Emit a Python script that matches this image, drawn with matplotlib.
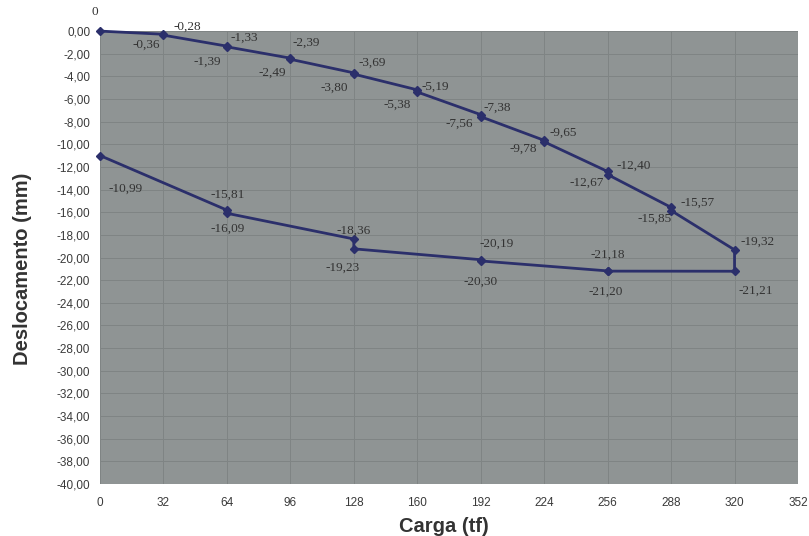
import matplotlib.pyplot as plt
from matplotlib.ticker import FuncFormatter, MultipleLocator

# load steps (tf) and measured displacement (mm), loading then unloading
carga = [0, 32, 32, 64, 64, 96, 96, 128, 128, 160, 160, 192, 192, 224, 224,
         256, 256, 288, 288, 320, 320, 256, 256, 192, 192, 128, 128, 64, 64, 0]
desloc = [0.00, -0.28, -0.36, -1.33, -1.39, -2.39, -2.49, -3.69, -3.80, -5.19,
          -5.38, -7.38, -7.56, -9.65, -9.78, -12.40, -12.67, -15.57, -15.85,
          -19.32, -21.21, -21.20, -21.18, -20.30, -20.19, -19.23, -18.36,
          -16.09, -15.81, -10.99]

# label offsets in pixels (dx, dy), dy positive = up
offsets = [(-5, 19), (24, 8), (-17, -10), (17, 8), (-20, -15), (16, 15), (-18, -13),
           (18, 10), (-20, -14), (18, 3), (-20, -13), (17, 7), (-21, -7),
           (19, 8), (-21, -7), (26, 6), (-21, -8), (26, 5), (-17, -8),
           (23, 8), (21, -19), (-2, -21), (0, 16), (0, -21), (16, 16),
           (-11, -19), (0, 8), (1, -15), (1, 15), (26, -33)]

cor_linha = '#2b2f6b'

fig = plt.figure(figsize=(8.09, 5.36), dpi=100)
ax = fig.add_axes([0.1236, 0.097, 0.8628, 0.845])
ax.set_facecolor('#8f9494')

ax.plot(carga, desloc, color=cor_linha, linewidth=2, marker='D', markersize=4,
        clip_on=False, zorder=3)

for x, y, (dx, dy) in zip(carga, desloc, offsets):
    txt = '0' if y == 0 else f'{y:.2f}'.replace('.', ',')
    ax.annotate(txt, (x, y), xytext=(dx, dy), textcoords='offset pixels',
                ha='center', va='center', fontsize=9.5, color='#333333',
                family='Liberation Serif', annotation_clip=False)

ax.set_xlim(0, 352)
ax.set_ylim(-40, 0)
ax.xaxis.set_major_locator(MultipleLocator(32))
ax.yaxis.set_major_locator(MultipleLocator(2))
ax.yaxis.set_major_formatter(FuncFormatter(lambda v, p: f'{v:.2f}'.replace('.', ',')))
ax.grid(True, color='#7f8484', linewidth=0.7)
ax.set_axisbelow(True)
for s in ax.spines.values():
    s.set_visible(False)
ax.tick_params(length=0, labelsize=8.5, labelcolor='#3a3a3a')
ax.tick_params(axis='y', pad=7)
ax.tick_params(axis='x', pad=9)
for lab in ax.get_xticklabels() + ax.get_yticklabels():
    lab.set_family('Liberation Sans')

ax.set_xlabel('Carga (tf)', fontsize=14.5, fontweight='bold', color='#333333',
              family='Liberation Sans')
ax.set_ylabel('Deslocamento (mm)', fontsize=14.5, fontweight='bold', color='#333333',
              family='Liberation Sans')
ax.xaxis.set_label_coords(0.493, -0.072)
ax.yaxis.set_label_coords(-0.098, 0.475)

fig.savefig('out.png', dpi=100)
